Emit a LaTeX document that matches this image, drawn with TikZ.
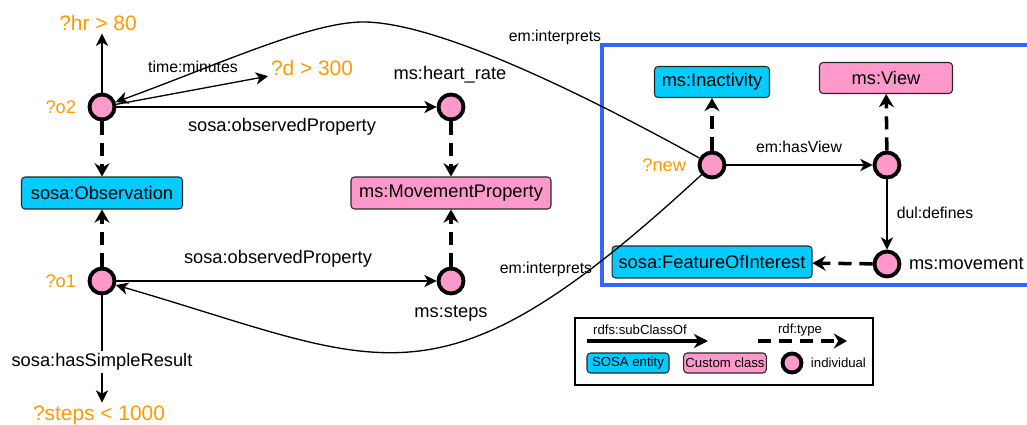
\documentclass[tikz,border=0pt]{standalone}
\usepackage{fontspec}
\setmainfont{Liberation Sans}
\usetikzlibrary{arrows.meta}
\definecolor{sosablue}{HTML}{00CCFF}
\definecolor{custpink}{HTML}{FF99CC}
\definecolor{varorange}{HTML}{FF9900}
\definecolor{frameblue}{HTML}{3366FF}
\tikzset{
  every node/.style={inner sep=1.5pt},
  ind/.style={circle, draw=black, fill=custpink, line width=2.2pt, minimum size=0.5cm, inner sep=0pt},
  sosabox/.style={draw=black!85, fill=sosablue, rounded corners=2pt, line width=0.6pt, minimum height=0.64cm, inner sep=2pt, font=\fontsize{10.4pt}{12pt}\selectfont},
  custbox/.style={sosabox, fill=custpink},
  legsosa/.style={sosabox, minimum height=0.4cm, minimum width=1.64cm, inner sep=1pt, font=\fontsize{7.5pt}{9pt}\selectfont},
  legcust/.style={legsosa, fill=custpink},
  var/.style={text=varorange, font=\fontsize{10.4pt}{12pt}\selectfont},
  val/.style={text=varorange, font=\fontsize{11.9pt}{14pt}\selectfont},
  lbl/.style={font=\fontsize{10.4pt}{12pt}\selectfont},
  slbl/.style={font=\fontsize{9pt}{11pt}\selectfont},
  leglbl/.style={font=\fontsize{7.5pt}{9pt}\selectfont},
  rel/.style={-{Stealth[length=7pt,width=7pt,inset=2pt]}, line width=0.75pt},
  typ/.style={-{Stealth[length=7.5pt,width=8.5pt,inset=2.5pt]}, line width=2pt, dash pattern=on 7.5pt off 4.5pt},
}
\begin{document}
\begin{tikzpicture}[x=0.02cm, y=-0.02cm]
\useasboundingbox (0,0) rectangle (1027,425);

% blue frame
\draw[frameblue, line width=2.2pt] (602,45) rectangle (1050,285);

% left part
\node[ind] (o2) at (102,107) {};
\node[var, anchor=east] (o2l) at (79,107) {?o2};
\node[val] (hr) at (98,23) {?hr > 80};
\node[val] (d) at (312,68) {?d > 300};
\node[sosabox, minimum width=3.22cm] (obs) at (102,193) {sosa:Observation};
\node[ind] (o1) at (102,281) {};
\node[var, anchor=east] (o1l) at (79,281) {?o1};
\node[val] (st) at (99,415) {?steps < 1000};

\node[ind] (hrate) at (451,107) {};
\node[lbl] (hratel) at (450,75) {ms:heart\_rate};
\node[custbox, minimum width=4cm] (mp) at (451,193) {ms:MovementProperty};
\node[ind] (steps) at (451,281) {};
\node[lbl] (stepsl) at (451,313) {ms:steps};

% right part
\node[ind] (new) at (712,165) {};
\node[var, anchor=east] (newl) at (689,165) {?new};
\node[sosabox, minimum width=2.3cm, minimum height=0.62cm] (inact) at (712,82) {ms:Inactivity};
\node[custbox, minimum width=2.66cm, minimum height=0.62cm] (view) at (886,78) {ms:View};
\node[ind] (nv) at (887,165) {};
\node[ind] (mov) at (887,264) {};
\node[lbl, anchor=west] (movl) at (906,264) {ms:movement};
\node[sosabox, minimum width=4cm] (foi) at (712,262) {sosa:FeatureOfInterest};

% edges left
\draw[rel] (o2) -- (o2 |- hr.south);
\draw[rel] (o2) -- (d);
\node[slbl] (tml) at (193,67) {time:minutes};
\draw[rel] (o2) -- (hrate);
\node[lbl] (op1) at (282,127) {sosa:observedProperty};
\draw[typ] (o2) -- (obs);
\draw[typ] (o1) -- (obs);
\draw[rel] (o1) -- (steps);
\node[lbl] (op2) at (278,259) {sosa:observedProperty};
\draw[rel] (o1) -- (o1 |- st.north);
\node[lbl, fill=white] (hsr) at (102,362) {sosa:hasSimpleResult};
\draw[typ] (hrate) -- (mp);
\draw[typ] (steps) -- (mp);

% interprets
\coordinate (peak) at (363,22);
\draw[rel] (new) .. controls (560,81) and (430,22) .. (peak) .. controls (310,22) and (215,66) .. (o2);
\draw[rel] (new) .. controls (436,420) and (387,364) .. (o1);
\node[slbl] (int1) at (555,37) {em:interprets};
\node[slbl] (int2) at (546,269) {em:interprets};

% edges right
\draw[rel] (new) -- (nv);
\node[slbl] (hv) at (799,147) {em:hasView};
\draw[rel] (nv) -- (mov);
\node[slbl] (dd) at (935,213) {dul:defines};
\draw[typ] (new) -- (inact);
\draw[typ] (nv) -- (view);
\draw[typ] (mov) -- (foi);

% legend
\draw[line width=0.6pt] (575,318) rectangle (873,385);
\node[leglbl] (lsub) at (640,330) {rdfs:subClassOf};
\coordinate (la1) at (587,341);
\coordinate (la2) at (708,341);
\draw[-{Stealth[length=8pt,width=8pt,inset=2.5pt]}, line width=2pt] (la1) -- (la2);
\node[leglbl] (ltyp) at (800,330) {rdf:type};
\coordinate (lb1) at (758,341);
\coordinate (lb2) at (847,341);
\draw[typ] (lb1) -- (lb2);
\node[legsosa] (ls) at (628,363) {SOSA entity};
\node[legcust] (lc) at (725,363) {Custom class};
\node[circle, draw=black, fill=custpink, line width=2.2pt, minimum size=0.38cm, inner sep=0pt] (li) at (792,363) {};
\node[leglbl, anchor=west] (lil) at (808,363) {individual};
\end{tikzpicture}
\end{document}
